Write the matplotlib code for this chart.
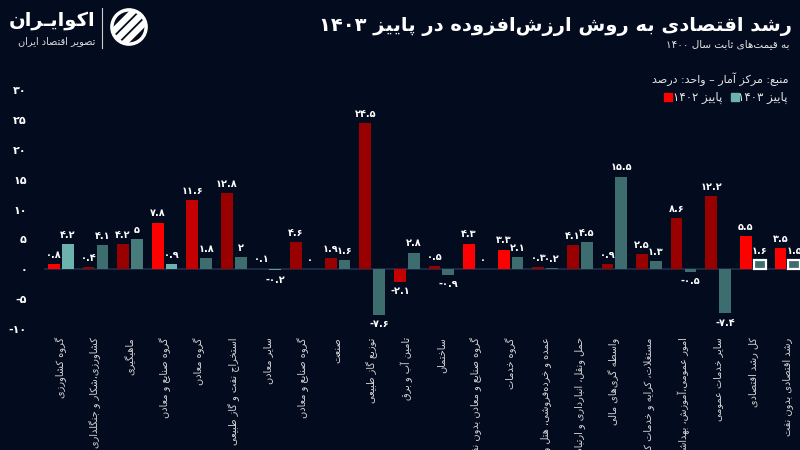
"""Value-added growth by sector, autumn 1402 vs 1403 (Persian labels)."""

import re

import matplotlib

matplotlib.use("Agg")
import matplotlib.pyplot as plt
import numpy as np
from matplotlib.patches import Circle, Rectangle

# ---- data -------------------------------------------------------------
categories = [
    "گروه کشاورزی",
    "کشاورزی،شکار و جنگلداری",
    "ماهیگیری",
    "گروه صنایع و معادن",
    "گروه معادن",
    "استخراج نفت و گاز طبیعی",
    "سایر معادن",
    "گروه صنایع و معادن",
    "صنعت",
    "توزیع گاز طبیعی",
    "تامین آب و برق",
    "ساختمان",
    "گروه صنایع و معادن بدون نفت",
    "گروه خدمات",
    "عمده و خرده‌فروشی، هتل و رستوران",
    "حمل ونقل، انبارداری و ارتباطات",
    "واسطه گری‌های مالی",
    "مستغلات، کرایه و خدمات کسب‌وکار",
    "امور عمومی،آموزش، بهداشت و مددکاری",
    "سایر خدمات عمومی",
    "کل رشد اقتصادی",
    "رشد اقتصادی بدون نفت",
]
autumn_1402 = [0.8, 0.4, 4.2, 7.8, 11.6, 12.8, 0.1, 4.6, 1.9, 24.5, -2.1,
               0.5, 4.3, 3.3, 0.3, 4.1, 0.9, 2.5, 8.6, 12.2, 5.5, 3.5]
autumn_1403 = [4.2, 4.1, 5.0, 0.9, 1.8, 2.0, -0.2, 0.0, 1.6, -7.6, 2.8,
               -0.9, 0.0, 2.1, 0.2, 4.5, 15.5, 1.3, -0.5, -7.4, 1.6, 1.5]
y_ticks = [-10, -5, 0, 5, 10, 15, 20, 25, 30]

# ---- styling ----------------------------------------------------------
BG = "#030b1e"
RED_HI, RED_MID, RED_LO = "#ff0000", "#c40000", "#990000"
TEAL_HI, TEAL_LO = "#6cb3ae", "#3e6d70"

red_colors = [RED_HI, RED_LO, RED_LO, RED_HI, RED_MID, RED_LO, RED_LO, RED_LO,
              RED_LO, RED_LO, RED_MID, RED_LO, RED_HI, RED_HI, RED_LO, RED_LO,
              RED_LO, RED_LO, RED_LO, RED_LO, RED_HI, RED_HI]
teal_colors = [TEAL_HI, TEAL_LO, "#477b7c", TEAL_HI, TEAL_LO, TEAL_LO, "#5a9c98",
               TEAL_LO, TEAL_LO, TEAL_LO, TEAL_LO, TEAL_LO, TEAL_LO, TEAL_LO,
               TEAL_LO, TEAL_LO, TEAL_LO, TEAL_LO, TEAL_LO, TEAL_LO, TEAL_LO, TEAL_LO]

# ---- minimal Arabic/Persian shaping + RTL ordering ----------------------
_R2 = {"آ": 0xFE81, "أ": 0xFE83, "ؤ": 0xFE85, "إ": 0xFE87, "ا": 0xFE8D,
       "ة": 0xFE93, "د": 0xFEA9, "ذ": 0xFEAB, "ر": 0xFEAD, "ز": 0xFEAF,
       "و": 0xFEED, "ى": 0xFEEF, "ژ": 0xFB8A}
_D4 = {"ئ": 0xFE89, "ب": 0xFE8F, "ت": 0xFE95, "ث": 0xFE99, "ج": 0xFE9D,
       "ح": 0xFEA1, "خ": 0xFEA5, "س": 0xFEB1, "ش": 0xFEB5, "ص": 0xFEB9,
       "ض": 0xFEBD, "ط": 0xFEC1, "ظ": 0xFEC5, "ع": 0xFEC9, "غ": 0xFECD,
       "ف": 0xFED1, "ق": 0xFED5, "ك": 0xFED9, "ل": 0xFEDD, "م": 0xFEE1,
       "ن": 0xFEE5, "ه": 0xFEE9, "ي": 0xFEF1, "پ": 0xFB56, "چ": 0xFB7A,
       "ک": 0xFB8E, "گ": 0xFB92, "ی": 0xFBFC}
_LAM_ALEF = {"ا": 0xFEFB, "آ": 0xFEF5}
TATWEEL = "ـ"
FA_DIGITS = str.maketrans("0123456789", "۰۱۲۳۴۵۶۷۸۹")


def _joins_next(c):
    return c in _D4 or c == TATWEEL


def _joins_prev(c):
    return c in _D4 or c in _R2 or c == TATWEEL


def _shape(s):
    out, i = [], 0
    while i < len(s):
        c = s[i]
        prev = s[i - 1] if i > 0 else ""
        nxt = s[i + 1] if i + 1 < len(s) else ""
        p = bool(prev) and _joins_next(prev)
        if c == "ل" and nxt in _LAM_ALEF:
            out.append(chr(_LAM_ALEF[nxt] + (1 if p else 0)))
            i += 2
            continue
        if c in _R2 or c in _D4:
            base = _R2.get(c, _D4.get(c))
            q = c in _D4 and bool(nxt) and _joins_prev(nxt)
            if p and q:
                out.append(chr(base + 3))
            elif p:
                out.append(chr(base + 1))
            elif q:
                out.append(chr(base + 2))
            else:
                out.append(chr(base))
        elif c != "\u200c":
            out.append(c)
        i += 1
    return "".join(out)


def fa(text):
    """Shape Persian text and put it in visual (left-to-right) order."""
    shaped = _shape(text.translate(FA_DIGITS))
    runs = re.findall(r"[0-9۰-۹.]+|[^0-9۰-۹.]+", shaped)
    return "".join(r if re.match(r"[0-9۰-۹]", r) else r[::-1] for r in reversed(runs))


def fa_num(v):
    s = f"{v:g}"
    return s.translate(FA_DIGITS)


# ---- figure -----------------------------------------------------------
plt.rcParams["font.family"] = ["DejaVu Sans"]
W, H = 800, 450
fig = plt.figure(figsize=(8, 4.5), dpi=100, facecolor=BG)


def px(x0, y0, w, h):
    return [x0 / W, 1 - (y0 + h) / H, w / W, h / H]


ax = fig.add_axes(px(43.6, 90, 761, 239))
ax.set_facecolor(BG)

x = np.arange(len(categories))
bw, off = 0.34, 0.2
ax.axhline(0, color="#1e2c48", lw=1.3, zorder=0.5)
ax.bar(x - off, autumn_1402, bw, color=red_colors, zorder=2)
edges = ["none"] * (len(categories) - 2) + ["white", "white"]
ax.bar(x + off, autumn_1403, bw, color=teal_colors, edgecolor=edges,
       linewidth=1.6, zorder=2)

for xs, vals in ((x - off, autumn_1402), (x + off, autumn_1403)):
    for xi, v in zip(xs, vals):
        ax.annotate(fa_num(v), (xi, v), xytext=(0, 3 if v >= 0 else -3),
                    textcoords="offset points", ha="center",
                    va="bottom" if v >= 0 else "top", color="white",
                    fontsize=7, fontweight="bold", zorder=3,
                    annotation_clip=False)

ax.set_xlim(-0.5, len(categories) - 0.5)
ax.set_ylim(-10, 30)
ax.set_yticks(y_ticks)
ax.set_yticklabels([fa_num(t) for t in y_ticks], color="white",
                   fontsize=8, fontweight="bold")
ax.set_xticks(x)
ax.set_xticklabels([fa(c) for c in categories], rotation=90, ha="center",
                   va="top", color="#d6d6d6", fontsize=7)
ax.tick_params(axis="both", length=0)
ax.tick_params(axis="y", pad=12)
ax.tick_params(axis="x", pad=6)
for s in ax.spines.values():
    s.set_visible(False)

# ---- titles, source, legend --------------------------------------------
fig.text(792 / W, 1 - 26 / H, fa("رشد اقتصادی به روش ارزش‌افزوده در پاییز ۱۴۰۳"),
         ha="right", va="center", color="white", fontsize=14, fontweight="bold")
fig.text(790 / W, 1 - 44 / H, fa("به قیمت‌های ثابت سال ۱۴۰۰"),
         ha="right", va="center", color="#e6e6e6", fontsize=7.5)
fig.text(788 / W, 1 - 79 / H, fa("منبع: مرکز آمار – واحد: درصد"),
         ha="right", va="center", color="#e6e6e6", fontsize=8)

fig.text(788 / W, 1 - 97 / H, fa("پاییز ۱۴۰۳"), ha="right", va="center",
         color="#e6e6e6", fontsize=8.5)
fig.text(722 / W, 1 - 97 / H, fa("پاییز ۱۴۰۲"), ha="right", va="center",
         color="#e6e6e6", fontsize=8.5)
for x0, col in ((731, TEAL_HI), (664, RED_HI)):
    fig.add_artist(Rectangle((x0 / W, 1 - 101 / H), 8 / W, 8 / H,
                             transform=fig.transFigure, color=col))

# ---- logo ---------------------------------------------------------------
fig.text(95 / W, 1 - 21 / H, fa("اکوایـران"), ha="right", va="center",
         color="white", fontsize=14, fontweight="bold")
fig.text(95 / W, 1 - 41 / H, fa("تصویر اقتصاد ایران"), ha="right", va="center",
         color="#dddddd", fontsize=7)
fig.add_artist(plt.Line2D([102 / W, 102 / W], [1 - 8 / H, 1 - 48 / H],
                          transform=fig.transFigure, color="#cccccc", lw=0.8))
icon = fig.add_axes(px(110, 8, 38, 38))
icon.set_xlim(0, 1)
icon.set_ylim(0, 1)
icon.axis("off")
clip = Circle((0.5, 0.5), 0.48, transform=icon.transData)
for k in (-0.3, 0.0, 0.3):
    ln, = icon.plot([0, 1], [k, k + 1], color="white",
                    lw=4.5, solid_capstyle="butt")
    ln.set_clip_path(clip)
icon.add_patch(Circle((0.5, 0.5), 0.45, fill=False, ec="white", lw=2.5))

fig.savefig("out.png", dpi=100, facecolor=BG)
